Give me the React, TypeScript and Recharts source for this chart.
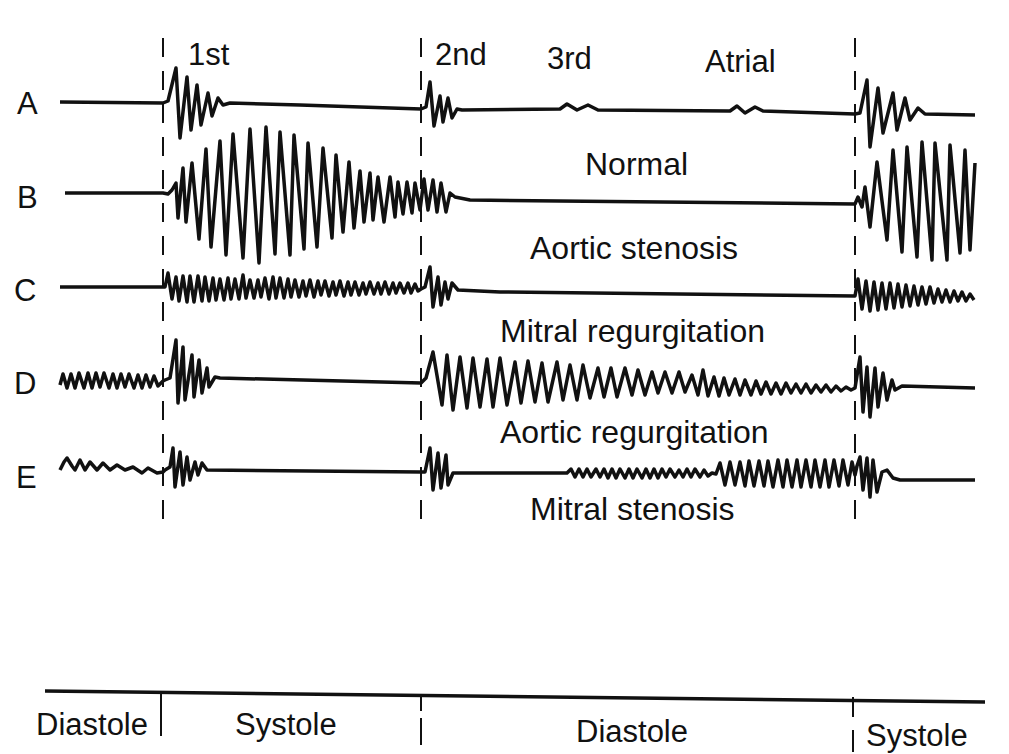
import { LineChart, Line, XAxis, YAxis, ReferenceLine } from 'recharts';

// heart sound traces, [time, amplitude] (amplitude: up = positive)
const ROWS = ['A', 'B', 'C', 'D', 'E'];
const CAPTIONS = ['Normal', 'Aortic stenosis', 'Mitral regurgitation', 'Aortic regurgitation', 'Mitral stenosis'];
const SOUNDS = ['1st', '2nd', '3rd', 'Atrial'];
const PHASES = ['Diastole', 'Systole', 'Diastole', 'Systole'];
const MARKERS = [163, 421, 855];

const TRACE_A: [number, number][] = [
  [60, 1], [163, 0], [168, 2], [176, 35], [180, -35], [187, 26], [191, -27], [197, 18], [201, -22],
  [208, 10], [212, -13], [218, 5], [223, -2], [230, 0], [300, -2], [421, -6], [426, -4], [430, 21],
  [434, -23], [440, 7], [443, -19], [448, 5], [452, -15], [457, -6], [462, -7], [560, -6], [567, -1],
  [577, -7], [588, -2], [598, -7], [730, -8], [737, -3], [745, -10], [755, -4], [763, -8], [855, -11],
  [860, -10], [867, 23], [870, -44], [878, 15], [883, -30], [893, 10], [897, -27], [905, 5], [910, -17],
  [918, -5], [925, -11], [975, -12],
];

const TRACE_B: [number, number][] = [
  [65, 0], [163, 0], [168, -1], [172, 3], [176, 10], [178, -25], [183, 25], [186, -29], [192, 30],
  [199, -46], [206, 44], [211, -54], [220, 52], [226, -62], [233, 59], [243, -65], [250, 64], [259, -70],
  [266, 66], [275, -61], [280, 61], [290, -62], [294, 58], [304, -56], [308, 50], [317, -54], [323, 45],
  [332, -45], [336, 38], [343, -39], [349, 31], [354, -35], [360, 22], [364, -29], [370, 20], [373, -27],
  [378, 16], [384, -29], [390, 16], [395, -24], [398, 11], [403, -21], [407, 11], [412, -20], [415, 10],
  [420, -17], [424, 14], [428, -17], [433, 13], [437, -19], [441, 10], [446, -19], [450, 0], [455, -4],
  [470, -7], [855, -11], [858, -4], [862, -14], [865, 6], [870, -34], [877, 31], [887, -47], [893, 43],
  [902, -59], [907, 46], [917, -64], [922, 51], [932, -67], [935, 50], [947, -67], [950, 48], [960, -60],
  [965, 43], [970, -57], [975, 30],
];

const TRACE_C: [number, number][] = [
  [60, 0], [163, 0], [165, 0], [168, 14], [172, -12], [176, 10], [179, -14], [183, 11], [187, -15],
  [190, 11], [194, -15], [198, 11], [202, -14], [205, 10], [209, -14], [213, 9], [216, -13], [220, 8],
  [224, -13], [228, 9], [231, -12], [235, 8], [239, -12], [243, 12], [246, -11], [250, 7], [254, -11],
  [258, 7], [261, -10], [265, 9], [269, -12], [273, 10], [276, -11], [280, 9], [284, -11], [288, 8],
  [291, -10], [295, 7], [299, -10], [303, 6], [306, -9], [310, 7], [314, -10], [318, 6], [321, -8],
  [325, 6], [329, -9], [333, 5], [336, -8], [340, 6], [344, -9], [348, 5], [351, -8], [355, 5], [359, -8],
  [363, 4], [366, -7], [370, 5], [374, -7], [378, 4], [381, -7], [385, 5], [389, -7], [393, 4], [396, -6],
  [400, 4], [404, -6], [408, 4], [411, -6], [415, 3], [418, -4], [421, -2], [425, 0], [430, 20],
  [433, -20], [438, 10], [441, -18], [445, 5], [448, -12], [452, 4], [458, -3], [500, -5], [855, -9],
  [858, 8], [862, -22], [866, 6], [870, -24], [874, 5], [878, -23], [882, 4], [886, -22], [890, 4],
  [894, -21], [898, 3], [902, -20], [906, 2], [910, -19], [914, 1], [918, -18], [922, 0], [926, -17],
  [930, 0], [934, -16], [938, -2], [942, -15], [946, -3], [950, -15], [954, -4], [958, -14], [962, -5],
  [966, -14], [970, -7], [974, -13],
];

const TRACE_D: [number, number][] = [
  [60, -5], [63, 6], [67, -8], [71, 6], [75, -8], [79, 7], [84, -8], [88, 7], [92, -8], [96, 7],
  [100, -7], [104, 7], [109, -8], [113, 6], [117, -8], [121, 6], [125, -7], [129, 6], [134, -8], [138, 5],
  [142, -8], [146, 5], [150, -7], [154, 4], [158, -6], [163, -1], [165, 0], [170, 2], [176, 40],
  [178, -23], [183, 33], [185, -20], [192, 25], [194, -17], [199, 20], [202, -13], [207, 12], [209, -7],
  [215, 3], [220, 2], [421, -3], [426, 2], [433, 28], [442, -25], [447, 25], [453, -30], [460, 23],
  [467, -28], [473, 22], [480, -27], [487, 21], [493, -27], [500, 22], [507, -25], [515, 18], [521, -23],
  [528, 19], [535, -22], [542, 17], [548, -22], [557, 18], [563, -20], [570, 15], [577, -20], [583, 15],
  [590, -18], [598, 12], [604, -17], [611, 12], [617, -17], [625, 12], [632, -15], [638, 10], [645, -15],
  [652, 8], [658, -13], [665, 8], [672, -13], [679, 8], [685, -12], [692, 5], [698, -15], [703, 10],
  [708, -16], [714, 3], [719, -16], [724, 2], [729, -15], [735, 1], [740, -15], [745, 0], [751, -15],
  [756, -1], [761, -14], [766, -2], [771, -14], [776, -3], [781, -14], [786, -3], [791, -13], [796, -4],
  [801, -13], [806, -4], [811, -13], [816, -5], [821, -12], [826, -5], [831, -12], [836, -6], [841, -11],
  [846, -7], [851, -10], [855, -8], [860, 23], [863, -32], [867, 13], [870, -37], [875, 12], [878, -27],
  [883, 7], [887, -20], [892, 0], [895, -10], [902, -6], [975, -8],
];

const TRACE_E: [number, number][] = [
  [60, 0], [64, 8], [67, 12], [72, 4], [75, 0], [80, 10], [85, 0], [90, 8], [97, 0], [103, 7], [110, 0],
  [117, 5], [125, 0], [133, 3], [142, -3], [148, 2], [157, -3], [163, -2], [165, 0], [170, 3], [173, 22],
  [175, -17], [180, 18], [183, -15], [187, 13], [190, -10], [195, 8], [198, -5], [202, 7], [207, 0],
  [421, -2], [425, -2], [430, 22], [433, -20], [438, 17], [441, -18], [446, 15], [448, -15], [453, -3],
  [567, -3], [571, 1], [575, -7], [579, 1], [583, -7], [587, 1], [591, -7], [596, 1], [600, -7], [604, 1],
  [608, -8], [612, 1], [616, -8], [620, 1], [625, -8], [629, 1], [633, -8], [637, 1], [642, -8], [646, 1],
  [650, -8], [654, 1], [658, -8], [662, 1], [666, -7], [670, 1], [675, -7], [679, 0], [683, -7], [687, 1],
  [691, -7], [695, 1], [700, -7], [704, 0], [708, -6], [712, -3], [716, -4], [720, 7], [725, -15],
  [730, 8], [735, -15], [740, 8], [745, -16], [749, 9], [754, -16], [759, 9], [764, -16], [768, 9],
  [773, -17], [778, 10], [783, -17], [787, 10], [792, -17], [797, 10], [801, -17], [806, 10], [811, -17],
  [815, 10], [820, -17], [825, 10], [829, -17], [834, 10], [839, -16], [843, 10], [848, -15], [852, 8],
  [855, -5], [857, 4], [860, 13], [863, -20], [867, 12], [870, -27], [873, 10], [877, -22], [882, -2],
  [887, 0], [893, -8], [900, -10], [975, -10],
];

const TRACES = [TRACE_A, TRACE_B, TRACE_C, TRACE_D, TRACE_E];

// layout
const W = 1009;
const H = 754;
const ROW_BASE = [103, 193, 287, 380, 470];
const ROW_LABEL_POS = [[17, 114], [17, 208], [14, 301], [14, 394], [16, 488]];
const CAPTION_POS = [[585, 175], [530, 259], [500, 342], [500, 443], [530, 520]];
const SOUND_POS = [[188, 65], [435, 65], [547, 69], [705, 72]];
const PHASE_POS = [[36, 735], [235, 735], [576, 742], [866, 746]];
const FONT = '"Liberation Sans", Arial, Helvetica, sans-serif';
const INK = '#111';

export default function App() {
  const series = TRACES.map((trace, i) =>
    trace.map(([t, a]) => ({ t, v: ROW_BASE[i] - a }))
  );

  return (
    <div style={{ position: 'absolute', left: 0, top: 0, width: W, height: H, background: '#fff' }}>
      <LineChart width={W} height={H} margin={{ top: 0, right: 0, bottom: 0, left: 0 }}>
        <XAxis type="number" dataKey="t" domain={[0, W]} hide allowDataOverflow />
        <YAxis type="number" domain={[0, H]} reversed hide allowDataOverflow />

        {MARKERS.map((x) => (
          <ReferenceLine
            key={x}
            segment={[{ x, y: 38 }, { x, y: 530 }]}
            stroke={INK}
            strokeWidth={2}
            strokeDasharray="19 14"
          />
        ))}

        {series.map((d, i) => (
          <Line
            key={ROWS[i]}
            data={d}
            dataKey="v"
            type="linear"
            stroke={INK}
            strokeWidth={3.5}
            strokeLinejoin="round"
            dot={false}
            activeDot={false}
            isAnimationActive={false}
          />
        ))}

        {/* phase bar at the bottom */}
        <ReferenceLine segment={[{ x: 45, y: 691 }, { x: 985, y: 702 }]} stroke={INK} strokeWidth={3.5} />
        <ReferenceLine segment={[{ x: 161, y: 692 }, { x: 161, y: 736 }]} stroke={INK} strokeWidth={2} />
        <ReferenceLine segment={[{ x: 421, y: 696 }, { x: 421, y: 711 }]} stroke={INK} strokeWidth={2} />
        <ReferenceLine segment={[{ x: 421, y: 718 }, { x: 421, y: 745 }]} stroke={INK} strokeWidth={2} />
        <ReferenceLine segment={[{ x: 853, y: 697 }, { x: 853, y: 717 }]} stroke={INK} strokeWidth={2} />
        <ReferenceLine segment={[{ x: 853, y: 730 }, { x: 853, y: 752 }]} stroke={INK} strokeWidth={2} />
      </LineChart>

      <svg
        width={W}
        height={H}
        style={{ position: 'absolute', left: 0, top: 0, pointerEvents: 'none' }}
        fontFamily={FONT}
        fill={INK}
      >
        {ROWS.map((r, i) => (
          <text key={r} x={ROW_LABEL_POS[i][0]} y={ROW_LABEL_POS[i][1]} fontSize={31}>{r}</text>
        ))}
        {CAPTIONS.map((c, i) => (
          <text key={c} x={CAPTION_POS[i][0]} y={CAPTION_POS[i][1]} fontSize={32}>{c}</text>
        ))}
        {SOUNDS.map((s, i) => (
          <text key={s} x={SOUND_POS[i][0]} y={SOUND_POS[i][1]} fontSize={31}>{s}</text>
        ))}
        {PHASES.map((p, i) => (
          <text key={i} x={PHASE_POS[i][0]} y={PHASE_POS[i][1]} fontSize={31}>{p}</text>
        ))}
      </svg>
    </div>
  );
}
